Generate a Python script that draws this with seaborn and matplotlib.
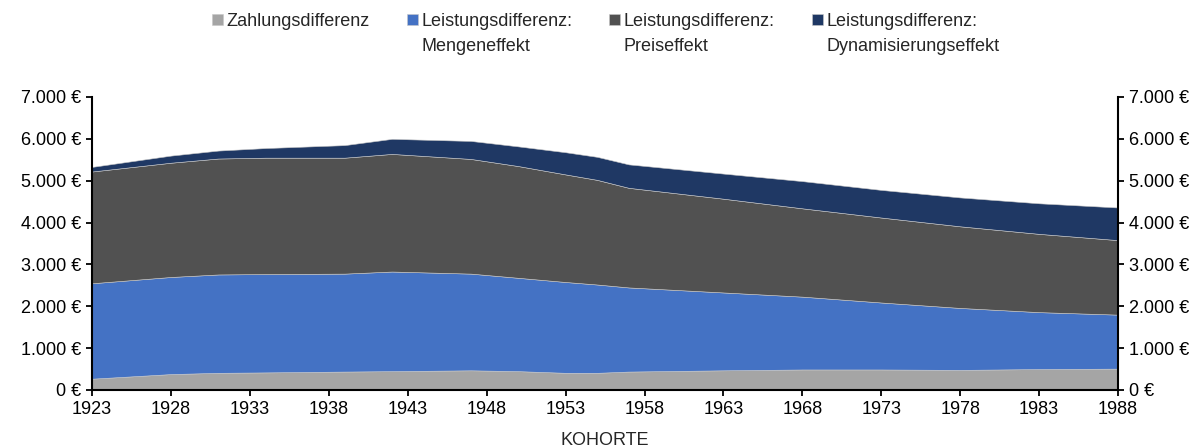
import matplotlib
matplotlib.use("Agg")
import numpy as np
import pandas as pd
import matplotlib.pyplot as plt
import seaborn as sns
from matplotlib.ticker import FuncFormatter

# Daten (Werte in €)
kohorte = [1923, 1928, 1931, 1934, 1939, 1942, 1947, 1950, 1953, 1955, 1957,
           1963, 1968, 1973, 1978, 1983, 1988]
zahlungsdifferenz = [270, 380, 410, 420, 440, 450, 470, 450, 410, 410, 440,
                     470, 490, 490, 480, 500, 510]
mengeneffekt = [2280, 2320, 2350, 2350, 2340, 2380, 2310, 2230, 2170, 2110, 2010,
                1860, 1740, 1600, 1480, 1360, 1290]
preiseffekt = [2670, 2730, 2770, 2780, 2770, 2810, 2740, 2670, 2570, 2500, 2380,
               2240, 2110, 2030, 1950, 1870, 1780]
dynamisierungseffekt = [110, 170, 190, 230, 300, 360, 430, 470, 530, 550, 560,
                        600, 650, 660, 690, 730, 780]

labels_first = ["Zahlungsdifferenz", "Leistungsdifferenz:", "Leistungsdifferenz:", "Leistungsdifferenz:"]
labels_second = ["", "Mengeneffekt", "Preiseffekt", "Dynamisierungseffekt"]
farben = ["#A5A5A5", "#4472C4", "#515151", "#1F3864"]
xticks = list(range(1923, 1989, 5))

df = pd.DataFrame({
    "Kohorte": kohorte,
    "Zahlungsdifferenz": zahlungsdifferenz,
    "Mengeneffekt": mengeneffekt,
    "Preiseffekt": preiseffekt,
    "Dynamisierungseffekt": dynamisierungseffekt,
})

sns.set_theme(style="ticks")
plt.rcParams['font.family'] = ['Liberation Sans', 'DejaVu Sans']

fig = plt.figure(figsize=(12, 4.48), dpi=100)
ax = fig.add_axes([0.0767, 0.1295, 0.855, 0.654])

ax.stackplot(df["Kohorte"],
             df["Zahlungsdifferenz"], df["Mengeneffekt"],
             df["Preiseffekt"], df["Dynamisierungseffekt"],
             colors=farben, labels=labels_first,
             edgecolor="#c8c8c8", linewidth=0.4)

ax.set_xlim(1923, 1988)
ax.set_ylim(0, 7000)
ax.set_xticks(xticks)
ax.set_yticks(np.arange(0, 7001, 1000))
ax.yaxis.set_major_formatter(FuncFormatter(lambda v, p: f"{v:,.0f}".replace(",", ".") + " €"))

for s in ["left", "right", "bottom"]:
    ax.spines[s].set_visible(True)
    ax.spines[s].set_linewidth(1.5)
    ax.spines[s].set_color("black")
ax.spines["top"].set_visible(False)
ax.tick_params(axis="both", direction="out", length=4, width=1.3, labelsize=13,
               colors="black", pad=4)
ax.tick_params(axis="y", right=True, labelright=True)
ax.set_xlabel("KOHORTE", fontsize=13, labelpad=10)
ax.set_ylabel("")
ax.grid(False)

# Legende oben, Kästchen an der ersten Zeile
leg = fig.legend(loc="upper center", bbox_to_anchor=(0.4955, 1.008), ncol=4, frameon=False,
                 fontsize=13, handlelength=0.6, handleheight=0.6, handletextpad=0.2,
                 columnspacing=2.05)
fig.canvas.draw()
inv = fig.transFigure.inverted()
for txt, zweite in zip(leg.get_texts(), labels_second):
    if zweite:
        bb = txt.get_window_extent()
        x0, y0 = inv.transform((bb.x0, bb.y0 - 25))
        fig.text(x0, y0, zweite, fontsize=13, ha="left", va="bottom")

fig.savefig("out.png", dpi=100)
